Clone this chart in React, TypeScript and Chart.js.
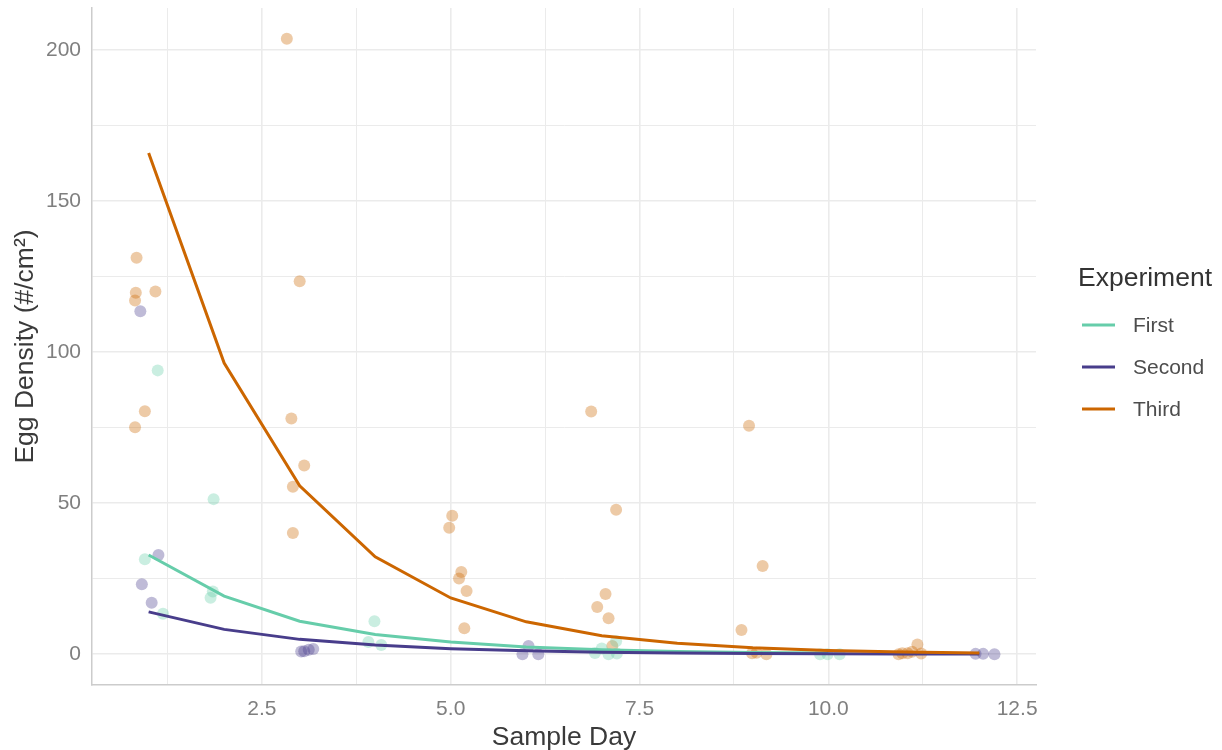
import React, { useEffect, useRef } from "react";
import { Chart, registerables } from "chart.js";

Chart.register(...registerables);

// Fitted curve days and values
const fitDaysFirst = [1, 2, 3, 4, 5, 6, 7, 8, 9, 10];
const fitFirst = [32.8, 19.2, 10.9, 6.5, 4.0, 2.4, 1.5, 0.9, 0.55, 0.35];
const fitDaysSecond = [1, 2, 3, 4, 5, 6, 7, 8, 9, 10, 11, 12];
const fitSecond = [14.0, 8.2, 4.9, 3.0, 1.8, 1.1, 0.65, 0.4, 0.24, 0.15, 0.09, 0.05];
const fitDaysThird = [1, 2, 3, 4, 5, 6, 7, 8, 9, 10, 11, 12];
const fitThird = [165.8, 96.3, 55.7, 32.2, 18.6, 10.7, 6.1, 3.6, 2.1, 1.2, 0.7, 0.4];

// Observed (jittered) samples
const firstX = [1.12, 0.95, 1.19, 1.86, 1.85, 1.82, 3.99, 3.91, 4.08, 6.91, 7.0, 7.09, 7.2, 7.19, 9.89, 9.99, 10.15];
const firstY = [93.9, 31.4, 13.4, 51.3, 20.7, 18.7, 10.9, 4.0, 3.0, 0.4, 1.9, 0.0, 0.2, 4.3, 0.0, 0.0, 0.0];
const secondX = [0.89, 1.13, 0.91, 1.04, 3.02, 3.06, 3.12, 3.18, 5.95, 6.03, 6.16, 11.95, 12.05, 12.2];
const secondY = [113.5, 32.8, 23.1, 17.0, 0.9, 1.0, 1.5, 1.7, 0.0, 2.7, 0.0, 0.1, 0.1, 0.0];
const thirdX = [0.84, 0.83, 0.82, 1.09, 0.95, 0.82, 2.83, 3.0, 2.89, 3.06, 2.91, 2.91, 5.02, 4.98, 5.14, 5.11, 5.21, 5.18, 6.86, 7.19, 7.05, 6.94, 7.09, 7.14, 8.95, 9.13, 8.85, 8.99, 9.18, 9.05, 11.18, 10.98, 11.05, 11.11, 11.23, 10.93];
const thirdY = [131.2, 119.6, 117.0, 120.0, 80.4, 75.1, 203.6, 123.4, 78.0, 62.4, 55.4, 40.1, 45.8, 41.8, 27.2, 25.0, 20.9, 8.6, 80.3, 47.8, 19.9, 15.6, 11.9, 2.7, 75.6, 29.2, 8.0, 0.3, 0.0, 0.5, 3.2, 0.3, 0.3, 0.8, 0.2, 0.0];

const seriesNames = ["First", "Second", "Third"];
const lineColors = ["#66CDAA", "#483D8B", "#CC6600"];
const pointColors = ["rgba(102,205,170,0.35)", "rgba(72,61,139,0.35)", "rgba(204,102,0,0.35)"];

const xTicks = [1.25, 2.5, 3.75, 5, 6.25, 7.5, 8.75, 10, 11.25, 12.5];
const xMajor = [2.5, 5, 7.5, 10, 12.5];
const yTicks = [0, 25, 50, 75, 100, 125, 150, 175, 200];
const yMajor = [0, 50, 100, 150, 200];

const FONT = '"Liberation Sans", Arial, sans-serif';

const toPts = (xs: number[], ys: number[]) => xs.map((x, i) => ({ x, y: ys[i] }));

const legendPlugin = {
  id: "ggLegend",
  afterDraw(chart: any) {
    const ctx = chart.ctx;
    ctx.save();
    ctx.fillStyle = "#333333";
    ctx.font = `26.5px ${FONT}`;
    ctx.textBaseline = "middle";
    ctx.textAlign = "left";
    ctx.fillText("Experiment", 1078, 279);
    ctx.font = `21px ${FONT}`;
    const ys = [325, 367, 409];
    seriesNames.forEach((name, i) => {
      ctx.strokeStyle = lineColors[i];
      ctx.lineWidth = 3;
      ctx.beginPath();
      ctx.moveTo(1082, ys[i]);
      ctx.lineTo(1115, ys[i]);
      ctx.stroke();
      ctx.fillStyle = "#4D4D4D";
      ctx.fillText(name, 1133, ys[i] + 1);
    });
    ctx.restore();
  },
};

export default function App() {
  const ref = useRef<HTMLCanvasElement | null>(null);
  useEffect(() => {
    document.body.style.margin = "0";
    const canvas = ref.current!;
    const xs = [firstX, secondX, thirdX];
    const ysArr = [firstY, secondY, thirdY];
    const fitX = [fitDaysFirst, fitDaysSecond, fitDaysThird];
    const fitY = [fitFirst, fitSecond, fitThird];
    const datasets: any[] = [];
    for (let i = 0; i < 3; i++) {
      datasets.push({
        type: "line",
        label: seriesNames[i] + " fit",
        data: toPts(fitX[i], fitY[i]),
        borderColor: lineColors[i],
        borderWidth: 3,
        pointRadius: 0,
        tension: 0,
        fill: false,
        order: 3 - i,
      });
    }
    for (let i = 0; i < 3; i++) {
      datasets.push({
        type: "scatter",
        label: seriesNames[i],
        data: toPts(xs[i], ysArr[i]),
        backgroundColor: pointColors[i],
        borderWidth: 0,
        pointRadius: 6,
        order: 10,
      });
    }
    const chart = new Chart(canvas, {
      type: "scatter",
      data: { datasets },
      plugins: [legendPlugin],
      options: {
        animation: false,
        responsive: false,
        layout: { padding: { left: 0, top: 8, right: 186, bottom: 0 } },
        plugins: { legend: { display: false }, tooltip: { enabled: false } },
        scales: {
          x: {
            type: "linear",
            min: 0.25,
            max: 12.75,
            afterBuildTicks: (s: any) => {
              s.ticks = xTicks.map((v) => ({ value: v }));
            },
            afterFit: (s: any) => {
              s.height = 65;
              s.paddingLeft = 0;
              s.paddingRight = 0;
            },
            ticks: {
              autoSkip: false,
              maxRotation: 0,
              padding: 12,
              color: "#7F7F7F",
              font: { family: FONT, size: 21 },
              callback: (v: any) => (xMajor.includes(Number(v)) ? Number(v).toFixed(1) : ""),
            },
            grid: {
              drawTicks: false,
              color: "#EBEBEB",
              lineWidth: (c: any) => (c.tick && xMajor.includes(c.tick.value) ? 1.6 : 1),
            },
            border: { display: true, color: "#CCCCCC", width: 1.5 },
            title: {
              display: true,
              text: "Sample Day",
              color: "#3A3A3A",
              font: { family: FONT, size: 26.5 },
              padding: { top: 0, bottom: -4 },
            },
          },
          y: {
            type: "linear",
            min: -10.2,
            max: 213.8,
            afterBuildTicks: (s: any) => {
              s.ticks = yTicks.map((v) => ({ value: v }));
            },
            afterFit: (s: any) => {
              s.width = 92;
              s.paddingTop = 0;
              s.paddingBottom = 0;
            },
            ticks: {
              autoSkip: false,
              padding: 11,
              color: "#7F7F7F",
              font: { family: FONT, size: 21 },
              callback: (v: any) => (yMajor.includes(Number(v)) ? String(v) : ""),
            },
            grid: {
              drawTicks: false,
              color: "#EBEBEB",
              lineWidth: (c: any) => (c.tick && yMajor.includes(c.tick.value) ? 1.6 : 1),
            },
            border: { display: true, color: "#CCCCCC", width: 1.5 },
            title: {
              display: true,
              text: "Egg Density (#/cm²)",
              color: "#3A3A3A",
              font: { family: FONT, size: 26.5 },
              padding: { top: 10, bottom: 0 },
            },
          },
        },
      },
    } as any);
    return () => chart.destroy();
  }, []);
  return <canvas ref={ref} width={1222} height={750} style={{ display: "block" }} />;
}
